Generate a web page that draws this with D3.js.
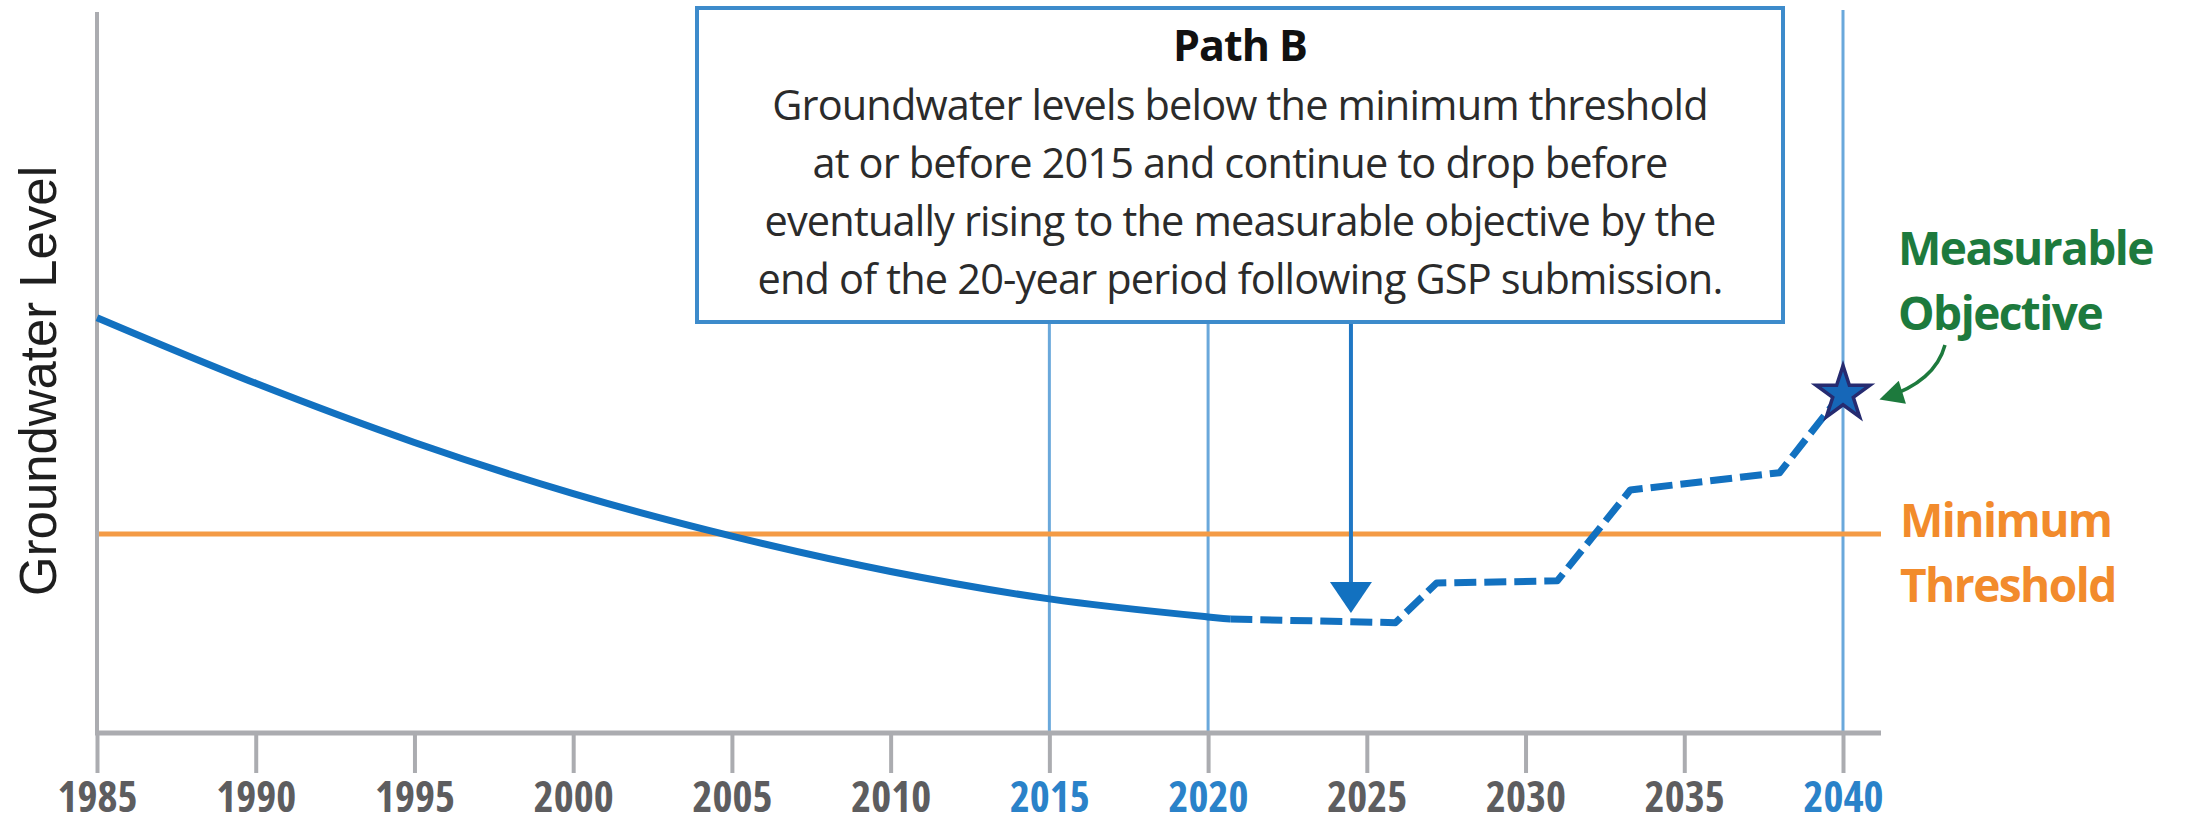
<!DOCTYPE html>
<html lang="en">
<head>
<meta charset="utf-8">
<title>Path B</title>
<script src="https://d3js.org/d3.v7.min.js"></script>
<style>
  body { margin: 0; background: #fff; }
  svg { display: block; }
</style>
</head>
<body>
<div id="chart"></div>
<script>

  // data
  var years = [1985, 1990, 1995, 2000, 2005, 2010, 2015, 2020, 2025, 2030, 2035, 2040]
  var highlightYears = [2015, 2020, 2040]

  // groundwater level (arbitrary units, 0 = x axis, 100 = top of axis)
  var solidYears  = [1985, 1990, 1995, 2000, 2005, 2010, 2015, 2020, 2020.7]
  var solidLevels = [57.6, 48.5, 40.3, 33.2, 27.3, 22.4, 18.6, 16.1, 15.8]

  var dashYears  = [2020.7, 2025.9, 2027.2, 2031.0, 2033.3, 2038.0, 2040]
  var dashLevels = [15.8, 15.3, 20.8, 21.1, 33.7, 36.1, 47.3]

  var thresholdLevel = 27.6
  var objective = { year: 2040, level: 47.3 }
  var arrowYear = 2024.5

  var boxTitle = "Path B"
  var boxLines = [
    "Groundwater levels below the minimum threshold",
    "at or before 2015 and continue to drop before",
    "eventually rising to the measurable objective by the",
    "end of the 20-year period following GSP submission."
  ]

  // set the dimensions of the graph
  var width = 2189
  var height = 826

  var svg = d3.select("#chart")
    .append("svg")
      .attr("width", width)
      .attr("height", height)

  var x = d3.scaleLinear().domain([1985, 2040]).range([97, 1843])
  var y = d3.scaleLinear().domain([0, 100]).range([733, 12])

  var blue = "#1271c0"
  var gridBlue = "#6aa8db"
  var orange = "#f49b45"
  var green = "#1d7a3d"
  var axisGray = "#abacb0"

  // scale a text selection so its widest member is `target` px wide
  function fitWidth(sel, size, target) {
    sel.style("font-size", size + "px")
    var w = d3.max(sel.nodes(), function(n){ return n.getComputedTextLength() })
    sel.style("font-size", (size * target / w) + "px")
  }

  // keep the font size, stretch/squeeze letter spacing so the widest member is `target` px wide
  function fitSpacing(sel, target) {
    var widest = null, w = 0
    sel.each(function(){
      var l = this.getComputedTextLength()
      if (l > w) { w = l; widest = this }
    })
    var n = widest.textContent.length
    sel.style("letter-spacing", ((target - w) / n) + "px")
  }

  // vertical reference lines (2015, 2020 start under the box; 2040 full height)
  svg.append("g")
    .selectAll("line")
    .data(highlightYears)
    .enter()
    .append("line")
      .attr("x1", function(d){ return x(d) })
      .attr("x2", function(d){ return x(d) })
      .attr("y1", function(d){ return d == 2040 ? y(100) - 2 : 322 })
      .attr("y2", y(0))
      .attr("stroke", gridBlue)
      .attr("stroke-width", 3)

  // minimum threshold line
  svg.append("line")
    .attr("x1", x(1985))
    .attr("x2", 1881)
    .attr("y1", y(thresholdLevel))
    .attr("y2", y(thresholdLevel))
    .attr("stroke", orange)
    .attr("stroke-width", 5)

  // x axis
  var xAxis = d3.axisBottom(x)
    .tickValues(years)
    .tickSize(40)
    .tickPadding(0)
    .tickFormat(d3.format("d"))

  var gx = svg.append("g")
    .attr("transform", "translate(0," + y(0) + ")")
    .call(xAxis)

  gx.select(".domain").remove()
  gx.selectAll(".tick line")
    .attr("stroke", axisGray)
    .attr("stroke-width", 4)
  var tickText = gx.selectAll(".tick text")
    .attr("y", 79)
    .attr("dy", 0)
    .style("font-family", "'Open Sans', sans-serif")
    .style("font-weight", 700)
    .style("font-stretch", "87.5%")
    .attr("fill", function(d){ return highlightYears.indexOf(d) >= 0 ? "#2a82c9" : "#5d5d5f" })
  fitWidth(tickText, 40, 80)

  // axis lines
  svg.append("line")
    .attr("x1", x(1985) - 2).attr("x2", 1881)
    .attr("y1", y(0)).attr("y2", y(0))
    .attr("stroke", axisGray).attr("stroke-width", 5)
  svg.append("line")
    .attr("x1", x(1985)).attr("x2", x(1985))
    .attr("y1", y(100)).attr("y2", y(0))
    .attr("stroke", axisGray).attr("stroke-width", 4)

  // y axis title
  var yTitle = svg.append("text")
    .attr("transform", "translate(56," + 381 + ") rotate(-90)")
    .attr("text-anchor", "middle")
    .style("font-family", "'Liberation Sans', Arial, sans-serif")
    .attr("fill", "#1e1e1e")
    .text("Groundwater Level")
  fitWidth(yTitle, 50, 430)

  // groundwater path: solid history, dashed projection
  var solid = d3.line()
    .x(function(d){ return x(d[0]) })
    .y(function(d){ return y(d[1]) })
    .curve(d3.curveMonotoneX)

  var dashed = d3.line()
    .x(function(d){ return x(d[0]) })
    .y(function(d){ return y(d[1]) })

  svg.append("path")
    .datum(d3.zip(solidYears, solidLevels))
    .attr("d", solid)
    .attr("fill", "none")
    .attr("stroke", blue)
    .attr("stroke-width", 7)

  svg.append("path")
    .datum(d3.zip(dashYears, dashLevels))
    .attr("d", dashed)
    .attr("fill", "none")
    .attr("stroke", blue)
    .attr("stroke-width", 7)
    .attr("stroke-linejoin", "round")
    .attr("stroke-dasharray", "22 8")

  // text box
  var box = { x: 697, y: 8, w: 1086, h: 314 }
  svg.append("rect")
    .attr("x", box.x).attr("y", box.y)
    .attr("width", box.w).attr("height", box.h)
    .attr("fill", "#fff")
    .attr("stroke", "#3d8bcb")
    .attr("stroke-width", 4)

  var cx = box.x + box.w / 2
  var title = svg.append("text")
    .attr("x", cx).attr("y", 61)
    .attr("text-anchor", "middle")
    .style("font-family", "'Open Sans', sans-serif")
    .style("font-weight", 700)
    .style("font-size", "43px")
    .attr("fill", "#111")
    .text(boxTitle)
  fitSpacing(title, 134)

  var body = svg.append("g")
    .selectAll("text")
    .data(boxLines)
    .enter()
    .append("text")
      .attr("x", cx)
      .attr("y", function(d, i){ return 120 + i * 58 })
      .attr("text-anchor", "middle")
      .style("font-family", "'Open Sans', sans-serif")
      .style("font-size", "41.5px")
      .attr("fill", "#2b2b2b")
      .text(function(d){ return d })
  fitSpacing(body, 965)

  // arrow from the box down to the path
  var ax = x(arrowYear)
  svg.append("line")
    .attr("x1", ax).attr("x2", ax)
    .attr("y1", box.y + box.h + 2).attr("y2", 585)
    .attr("stroke", "#1f77c4")
    .attr("stroke-width", 4)
  svg.append("path")
    .attr("d", "M" + (ax - 21) + ",582 L" + (ax + 21) + ",582 L" + ax + ",613 Z")
    .attr("fill", blue)

  // measurable objective star
  svg.append("path")
    .attr("d", d3.symbol().type(d3.symbolStar).size(900))
    .attr("transform", "translate(" + x(objective.year) + "," + (y(objective.level) + 2) + ")")
    .attr("fill", "#1667b8")
    .attr("stroke", "#262b70")
    .attr("stroke-width", 3.5)

  // right-hand labels
  var labels = svg.append("g")
    .style("font-family", "'Open Sans', sans-serif")
    .style("font-weight", 700)
    .style("font-size", "46px")

  var lab = labels.selectAll("text")
    .data([
      { t: "Measurable", x: 1898, y: 265, c: green },
      { t: "Objective",  x: 1898, y: 330, c: green },
      { t: "Minimum",    x: 1900, y: 537, c: "#f28b2c" },
      { t: "Threshold",  x: 1900, y: 602, c: "#f28b2c" }
    ])
    .enter()
    .append("text")
      .attr("x", function(d){ return d.x })
      .attr("y", function(d){ return d.y })
      .attr("fill", function(d){ return d.c })
      .text(function(d){ return d.t })
  fitSpacing(lab, 255)

  // green pointer arrow to the star
  svg.append("defs").append("marker")
    .attr("id", "gh")
    .attr("viewBox", "0 0 10 10")
    .attr("refX", 8).attr("refY", 5)
    .attr("markerWidth", 30).attr("markerHeight", 24)
    .attr("markerUnits", "userSpaceOnUse")
    .attr("orient", "auto")
    .append("path")
      .attr("d", "M0,0 L10,5 L0,10 Z")
      .attr("fill", green)

  svg.append("path")
    .attr("d", "M1945,345 Q1935,382 1884,398")
    .attr("fill", "none")
    .attr("stroke", green)
    .attr("stroke-width", 3.5)
    .attr("marker-end", "url(#gh)")

</script>
</body>
</html>
